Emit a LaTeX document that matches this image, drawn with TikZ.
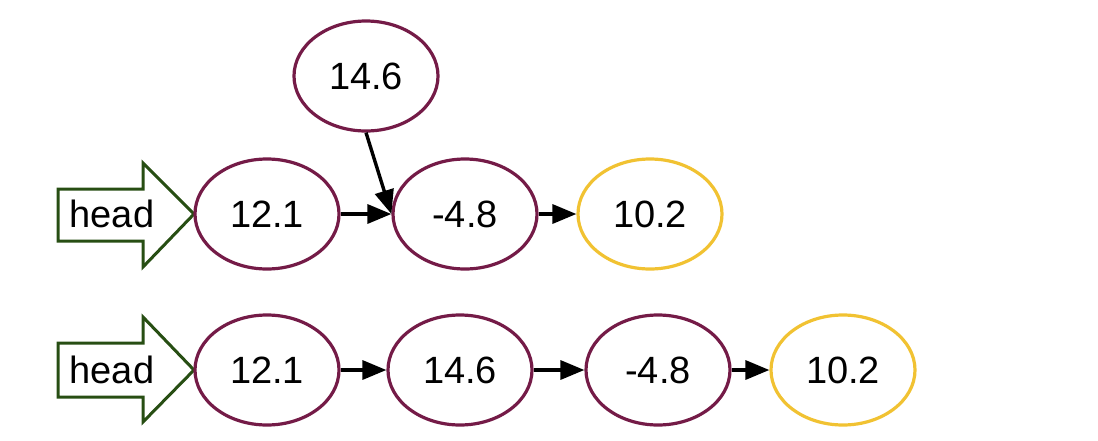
\documentclass[tikz,border=0pt]{standalone}
\usepackage{fontspec}
\setmainfont{Liberation Sans}
\usetikzlibrary{shapes.geometric,arrows.meta}
\definecolor{nodemag}{HTML}{741B47}
\definecolor{tailyel}{HTML}{F1C232}
\definecolor{headgrn}{HTML}{274E13}
\begin{document}
\begin{tikzpicture}[x=1pt,y=-1pt,
  val/.style={ellipse,draw=nodemag,line width=3.2pt,minimum width=144pt,minimum height=110pt,inner sep=0pt,font=\fontsize{38}{40}\selectfont},
  tailval/.style={val,draw=tailyel},
  link/.style={line width=3.4pt,-{Triangle[length=24pt,width=19pt]}},
  headarrow/.style={draw=headgrn,line width=3pt,line join=miter,fill=white},
  headlbl/.style={inner sep=0pt,font=\fontsize{38}{40}\selectfont}
]
\useasboundingbox (0,0) rectangle (1098,440);
% top row
\draw[headarrow] (58,189) -- (143,189) -- (143,163) -- (194,214) -- (143,267) -- (143,241) -- (58,241) -- cycle;
\node[headlbl] (h1) at (112,214) {head};
\node[val] (a1) at (267,214) {12.1};
\node[val] (a2) at (465,214) {-4.8};
\node[tailval] (a3) at (650,214) {10.2};
\node[val] (a4) at (366,76) {14.6};
\draw[link] (a1.east) -- (a2.west);
\draw[link] (a2.east) -- (a3.west);
\draw[link] (a4.south) -- (a2.west);
% bottom row
\draw[headarrow] (58,343) -- (143,343) -- (143,317) -- (194,370) -- (143,422) -- (143,397) -- (58,397) -- cycle;
\node[headlbl] (h2) at (112,370) {head};
\node[val] (b1) at (267,370) {12.1};
\node[val] (b2) at (460,370) {14.6};
\node[val] (b3) at (658,370) {-4.8};
\node[tailval] (b4) at (843,370) {10.2};
\draw[link] (b1.east) -- (b2.west);
\draw[link] (b2.east) -- (b3.west);
\draw[link] (b3.east) -- (b4.west);
\end{tikzpicture}
\end{document}
